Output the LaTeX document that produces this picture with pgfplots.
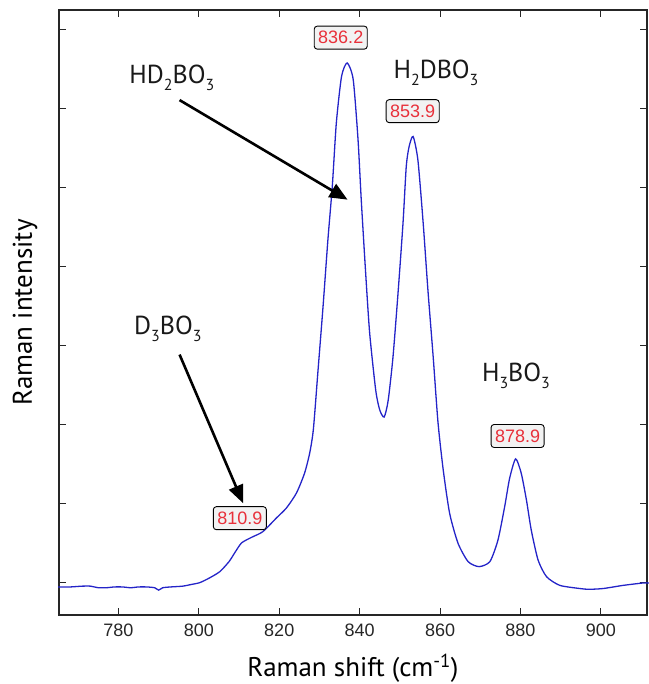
\documentclass[border=0pt]{standalone}
\usepackage{fontspec}
\setmainfont{Liberation Sans}
\newfontfamily\labfont{PT Sans}
\usepackage{pgfplots}
\pgfplotsset{compat=1.18}
\usetikzlibrary{arrows.meta}

\definecolor{specblue}{HTML}{2424C8}
\definecolor{peakred}{HTML}{E8303A}
\definecolor{boxfill}{HTML}{F2F2F2}

% lowered subscript like in the original figure
\newcommand{\sub}[1]{\raisebox{-0.55ex}{\fontsize{16}{16}\selectfont #1}}

\pgfplotstableread{
x y
765 -0.05
768 -0.05
771 -0.04
773 -0.04
775 -0.06
777 -0.06
779 -0.05
781 -0.05
783 -0.06
785 -0.05
787 -0.05
789 -0.06
790 -0.09
791 -0.06
793 -0.05
796 -0.04
798 -0.02
800.2 0.004
802.5 0.06
805.2 0.143
807.5 0.27
808.9 0.38
810.6 0.506
813 0.575
815.9 0.649
819.3 0.823
821.8 0.95
824.3 1.14
826.3 1.39
827.6 1.65
828.5 1.95
829.6 2.66
830.9 3.50
832.1 4.34
833.2 5.02
834.2 5.82
835.5 6.41
836.9 6.58
838.4 6.37
839.6 5.61
840.4 4.85
841.5 3.92
842.5 3.16
844 2.44
845 2.19
846.1 2.10
847.1 2.31
848.3 2.86
849.6 3.70
850.8 4.56
851.6 5.27
852.3 5.52
853.3 5.65
854.5 5.35
855.8 4.56
857 3.70
858.3 2.86
859.5 2.03
860.8 1.43
862.4 0.88
864.5 0.50
867 0.27
869.7 0.207
872.4 0.27
874.4 0.54
876.1 0.97
877.3 1.32
878.8 1.57
880.2 1.39
881.5 1.05
882.7 0.67
884.4 0.29
886.5 0.08
889.8 -0.03
894.8 -0.07
897 -0.08
900.6 -0.07
905.6 -0.03
910.5 0.00
912 0.00
}\spectrum

\begin{document}
\begin{tikzpicture}
\useasboundingbox (-59pt,-69pt) rectangle (589pt,615pt);
\begin{axis}[
scale only axis,
width=588pt, height=605pt,
xmin=765.2, xmax=911.5,
ymin=-0.405, ymax=7.25,
xtick={780,800,...,900},
ytick={0,1,...,7},
yticklabels={},
tick align=inside,
major tick length=7pt,
axis line style={black!85, line width=1.2pt},
tick style={black!85, line width=1pt},
xticklabel style={font=\fontsize{18}{18}\selectfont, text=black!85, yshift=-5pt},
/pgf/number format/assume math mode=true,
xlabel={\labfont\fontsize{27}{27}\selectfont Raman shift (cm\textsuperscript{-1})},
ylabel={\labfont\fontsize{27}{27}\selectfont Raman intensity},
xlabel style={at={(axis description cs:0.5,0)}, anchor=center, yshift=-53pt},
ylabel style={at={(axis description cs:0,0.5)}, anchor=center, rotate=0, yshift=34pt},
clip=false,
]
\addplot[specblue, line width=1.3pt, smooth, tension=0.4] table[x=x, y=y] {\spectrum};

\begin{scope}[every node/.style={draw=black, line width=0.9pt, fill=boxfill, rounded corners=3pt,
  text=peakred, font=\fontsize{18}{18}\selectfont, inner xsep=4pt, inner ysep=2pt, minimum height=23pt}]
\node at (axis cs:835.3,6.90) {836.2};
\node at (axis cs:853.2,5.97) {853.9};
\node at (axis cs:810.2,0.82) {810.9};
\node at (axis cs:879.3,1.86) {878.9};
\end{scope}

\begin{scope}[every node/.style={font=\labfont\fontsize{26}{26}\selectfont, text=black!90}]
\node at (axis cs:793.3,6.39) {HD\sub{2}BO\sub{3}};
\node at (axis cs:859.0,6.46) {H\sub{2}DBO\sub{3}};
\node at (axis cs:792.3,3.22) {D\sub{3}BO\sub{3}};
\node at (axis cs:878.9,2.62) {H\sub{3}BO\sub{3}};
\end{scope}

\draw[line width=2.6pt, -{Triangle[length=18pt, width=15pt]}] (axis cs:795.2,6.11) -- (axis cs:837.0,4.85);
\draw[line width=2.6pt, -{Triangle[length=18pt, width=15pt]}] (axis cs:795.2,2.89) -- (axis cs:811.0,1.01);
\end{axis}
\end{tikzpicture}
\end{document}
